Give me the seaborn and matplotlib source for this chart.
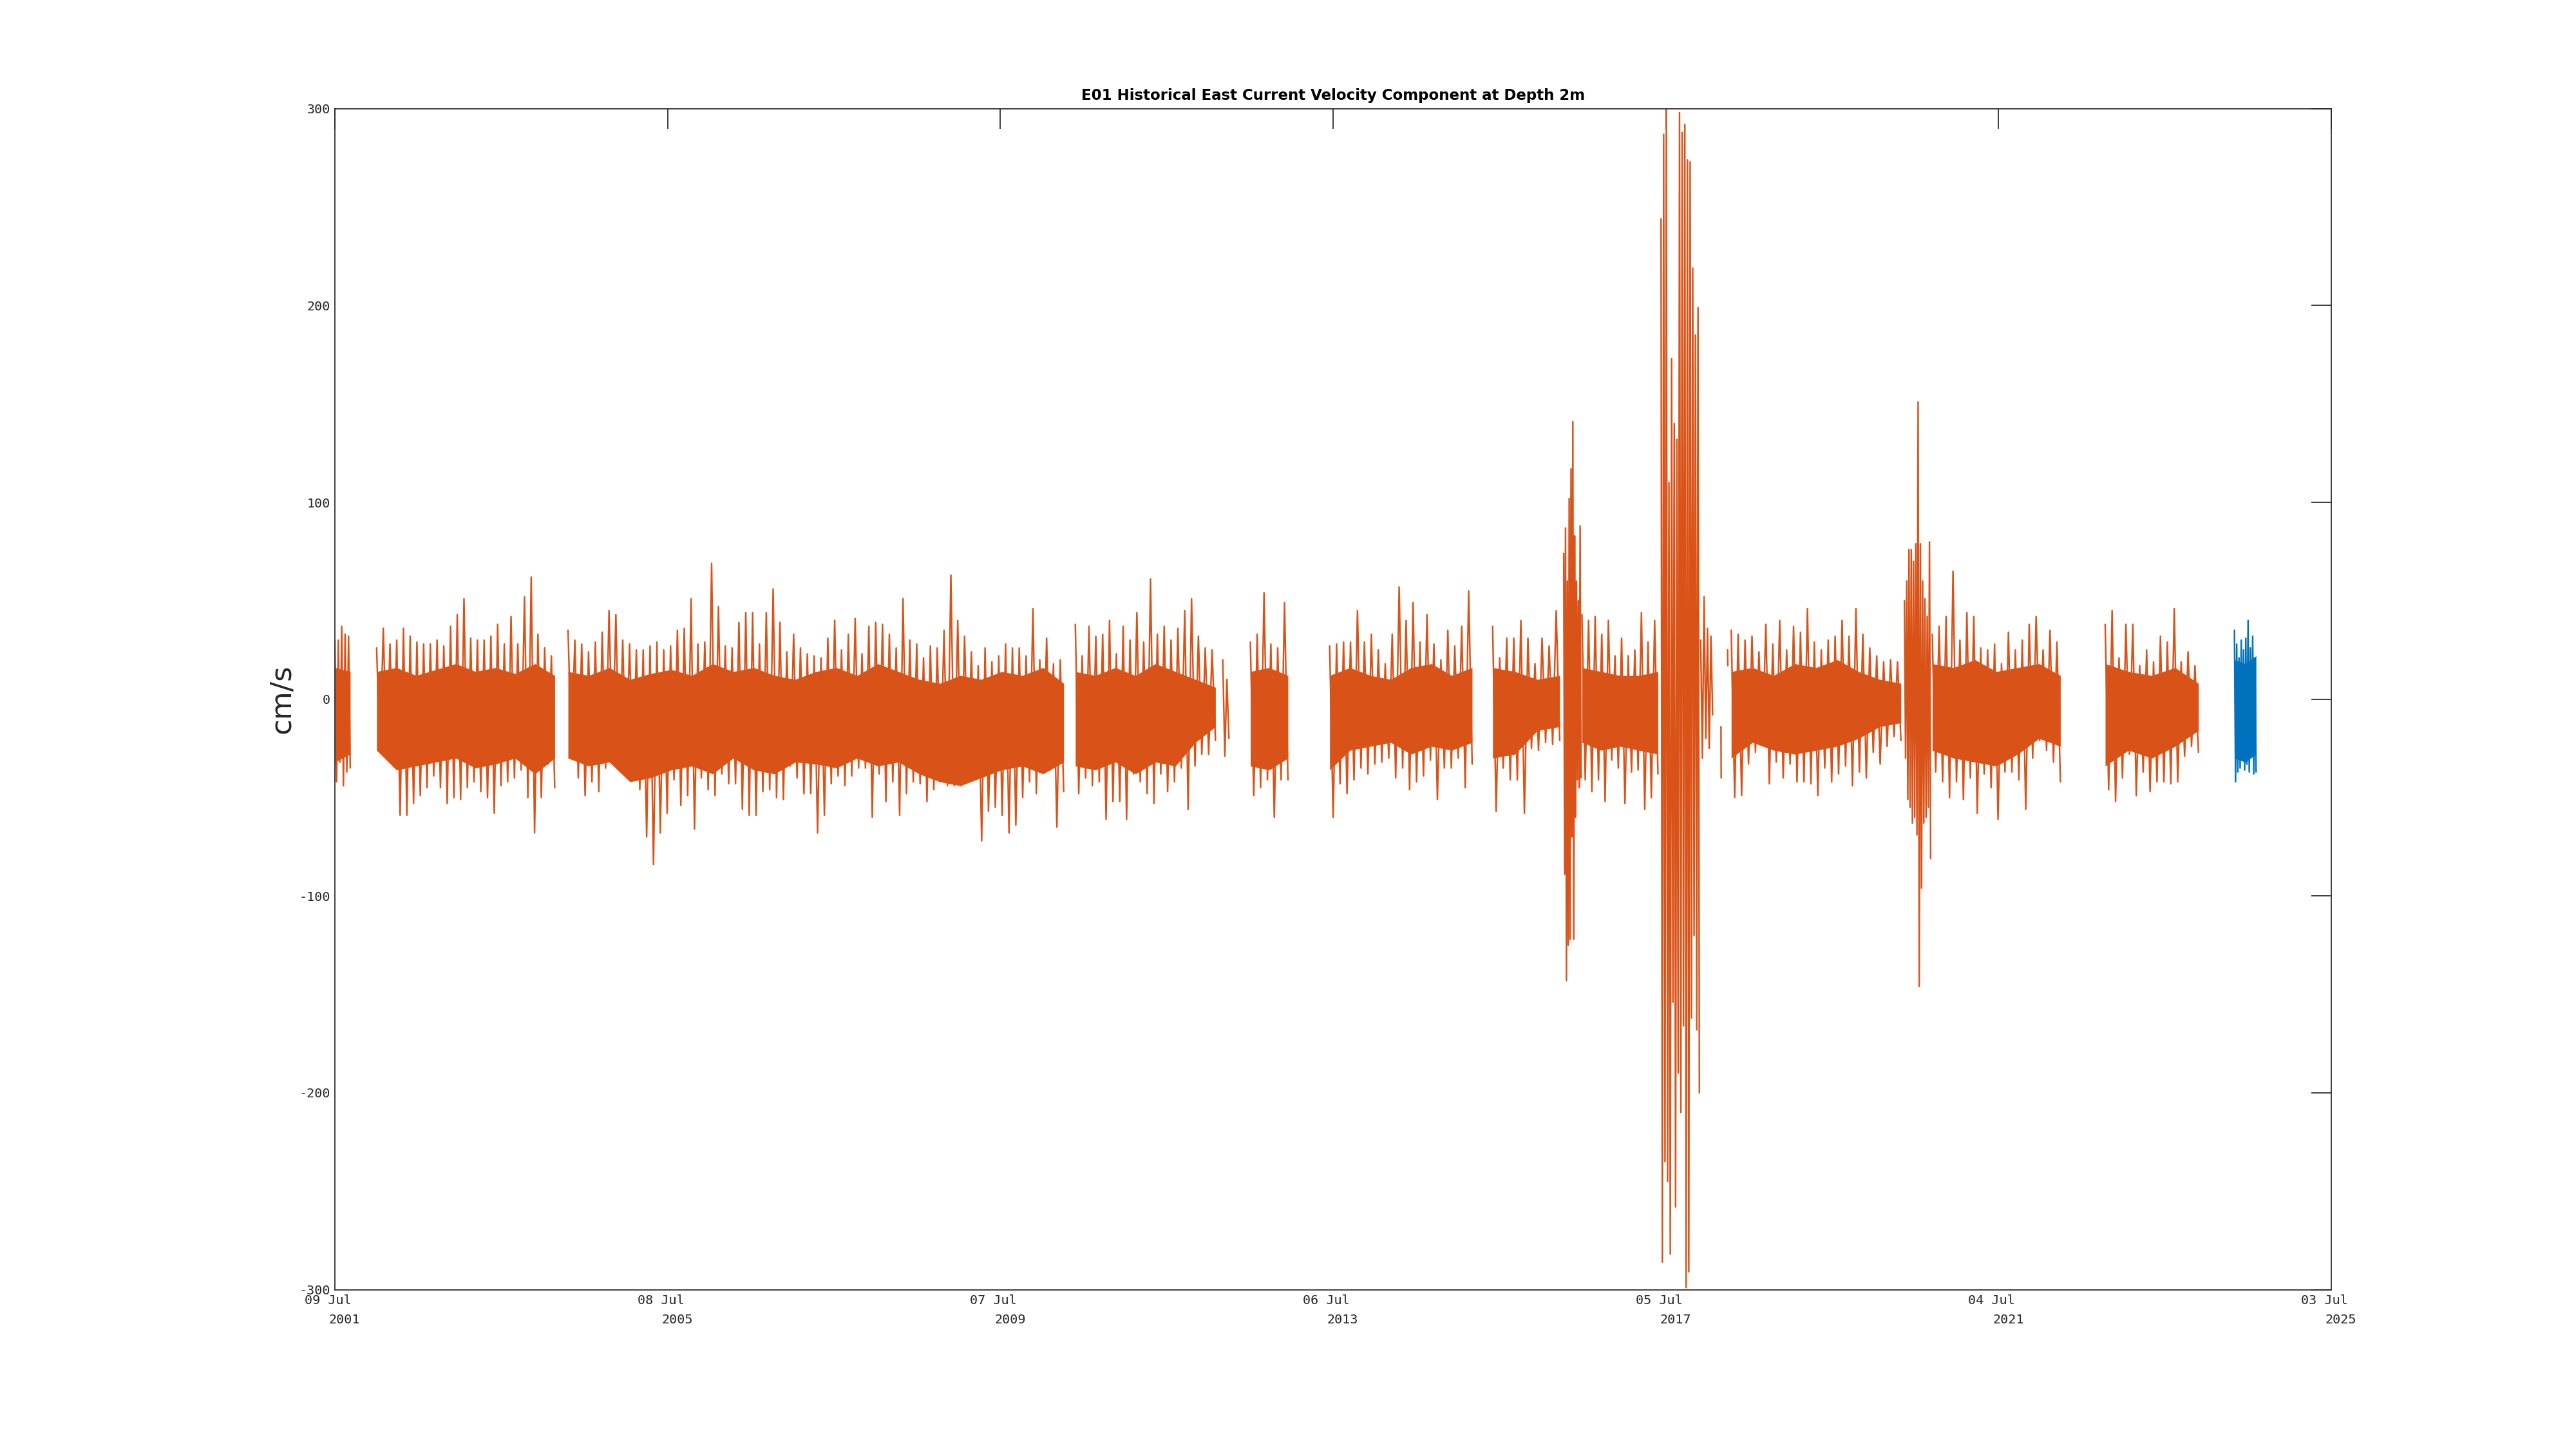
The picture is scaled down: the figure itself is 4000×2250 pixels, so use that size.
import numpy as np
import pandas as pd
import matplotlib
matplotlib.use("Agg")
import matplotlib.pyplot as plt
import matplotlib.transforms as mtransforms
import seaborn as sns

ORANGE = "#D95319"
BLUE = "#0072BD"
DARK = "#262626"

# each record piece: first sample date, days per peak/trough pair,
# peaks and troughs (cm/s), plus the solid core band
a_start, a_step = "2001-07-09", 15
a_hi = [30, 30, 37, 33, 32]
a_lo = [-42, -32, -44, -37, -35]
a_core_hi = [16, 14]
a_core_lo = [-32, -28]

b_start, b_step = "2002-01-08", 29.5
b_hi = [26, 36, 28, 30, 36, 32, 29, 28, 28, 30, 27, 37, 43, 51, 31, 30, 30, 32, 38, 28,
        42, 28, 52, 62, 33, 26, 22]
b_lo = [-26, -30, -34, -59, -59, -53, -49, -45, -39, -45, -53, -50, -51, -45, -42, -47, -50,
        -58, -44, -42, -40, -36, -50, -68, -50, -33, -45]
b_core_hi = [14, 16, 12, 15, 18, 14, 16, 13, 18, 12]
b_core_lo = [-26, -36, -34, -32, -30, -35, -33, -30, -38, -30]

c_start, c_step = "2004-04-27", 30
c_hi = [35, 30, 28, 24, 29, 34, 45, 43, 30, 28, 25, 25, 27, 29, 25, 27, 35, 36, 51, 28,
        29, 69, 47, 27, 26, 39, 44, 44, 28, 44, 56, 39, 24, 33, 26, 23, 22, 21, 31, 40,
        25, 33, 41, 23, 37, 39, 38, 33, 26, 51, 30, 28, 21, 27, 26, 35, 63, 40, 32, 24,
        17, 26, 19, 22, 28, 26, 26, 22, 46, 20, 31, 18, 20]
c_lo = [-25, -40, -49, -42, -47, -35, -27, -35, -34, -38, -46, -70, -84, -68, -58, -41, -54,
        -49, -66, -40, -46, -49, -38, -43, -43, -56, -59, -59, -47, -46, -50, -51, -34, -40,
        -48, -48, -68, -59, -43, -39,
        -44, -39, -35, -35, -60, -38, -52, -42, -59, -48, -42, -43, -52, -46, -35, -44, -44,
        -44, -36, -40, -72, -57, -55, -59, -68, -64, -50, -42, -48, -36, -36, -65, -47]
c_core_hi = [14, 12, 16, 10, 13, 15, 12, 18, 14, 16, 12, 10, 14, 16, 12, 18, 14, 10, 8, 12,
             10, 14, 12, 16, 8]
c_core_lo = [-30, -34, -32, -42, -40, -36, -34, -38, -30, -36, -38, -32, -33, -35, -30, -34,
             -32, -38, -42, -44, -40, -36, -34, -38, -32]

d_start, d_step = "2010-06-01", 30
d_hi = [38, 22, 37, 32, 33, 40, 23, 37, 30, 44, 29, 61, 33, 37, 30, 36, 45, 51, 32, 26, 25]
d_lo = [-48, -40, -44, -42, -61, -52, -52, -61, -38, -42, -48, -53, -38, -47, -42, -35, -56,
        -34, -28, -28, -21]
d_core_hi = [14, 12, 16, 12, 18, 14, 10, 6]
d_core_lo = [-34, -36, -32, -38, -32, -34, -22, -14]

d2_start, d2_step = "2012-03-09", 18
d2_hi = [20, 10]
d2_lo = [-29, -20]

e_start, e_step = "2012-07-08", 30
e_hi = [29, 33, 54, 28, 26, 49]
e_lo = [-49, -45, -41, -60, -41, -41]
e_core_hi = [14, 16, 12]
e_core_lo = [-34, -36, -30]

f_start, f_step = "2013-06-21", 30.5
f_hi = [27, 28, 29, 29, 45, 29, 33, 25, 18, 33, 57, 40, 49, 29, 43, 28, 20, 35, 27, 37, 55]
f_lo = [-60, -43, -48, -41, -35, -38, -33, -32, -30, -40, -35, -46, -42, -39, -31, -51, -35,
        -35, -30, -45, -33]
f_core_hi = [12, 16, 12, 10, 16, 18, 12, 16]
f_core_lo = [-36, -26, -24, -22, -28, -24, -26, -22]

g1_start, g1_step = "2015-06-06", 31
g1_hi = [37, 21, 31, 31, 40, 31, 18, 31, 27, 45]
g1_lo = [-57, -35, -41, -41, -58, -25, -26, -22, -23, -21]
g1_core_hi = [16, 14, 10, 12]
g1_core_lo = [-30, -28, -16, -14]

g2_start, g2_step = "2016-04-13", 8
g2_hi = [74, 87, 60, 102, 117, 141, 83, 60, 50, 88]
g2_lo = [-89, -143, -125, -122, -70, -122, -60, -41, -45, -40]

g3_start, g3_step = "2016-07-02", 29
g3_hi = [43, 40, 42, 33, 40, 22, 31, 22, 25, 44, 29, 40]
g3_lo = [-41, -47, -41, -52, -31, -35, -53, -37, -36, -56, -50, -38]
g3_core_hi = [16, 14, 12, 12, 14]
g3_core_lo = [-22, -26, -24, -26, -28]

g4_start, g4_step = "2017-06-14", 11.6
g4_hi = [244, 287, 300, 110, 173, 140, 132, 298, 288, 292, 274, 273, 219, 185, 199]
g4_lo = [-286, -235, -245, -282, -154, -258, -190, -210, -166, -299, -291, -162, -120, -168, -200]

g5_start, g5_step = "2017-12-05", 15
g5_hi = [30, 52, 36, 32]
g5_lo = [-30, -20, -25, -8]

p1_start, p1_step = "2018-03-04", 2
p1_hi = [-14]
p1_lo = [-40]

p2_start, p2_step = "2018-04-02", 2
p2_hi = [25]
p2_lo = [17]

h1_start, h1_step = "2018-04-18", 30.4
h1_hi = [35, 33, 30, 32, 24, 38, 28, 40, 25, 37, 34, 46, 29, 25, 30, 32, 40, 32, 46, 33,
         26, 22, 19, 20, 19]
h1_lo = [-50, -49, -33, -27, -23, -43, -32, -40, -33, -42, -42, -43, -49, -35, -42, -38, -34,
         -44, -37, -40, -27, -33, -24, -19, -21]
h1_core_hi = [14, 16, 12, 18, 16, 20, 14, 10, 8]
h1_core_lo = [-30, -22, -26, -28, -26, -24, -20, -14, -12]

h2_start, h2_step = "2020-05-17", 10
h2_hi = [50, 60, 76, 76, 70, 79, 151, 79, 60, 51, 42, 80]
h2_lo = [-30, -51, -55, -63, -60, -69, -146, -96, -63, -60, -55, -81]

h3_start, h3_step = "2020-09-16", 30.4
h3_hi = [33, 37, 42, 65, 30, 44, 42, 26, 25, 28, 18, 34, 25, 30, 38, 42, 25, 35, 29]
h3_lo = [-37, -42, -50, -42, -51, -40, -58, -38, -45, -61, -37, -37, -41, -56, -30, -21, -26,
         -32, -42]
h3_core_hi = [18, 16, 20, 14, 16, 18, 12]
h3_core_lo = [-26, -30, -32, -34, -28, -20, -24]

i_start, i_step = "2022-10-15", 30.3
i_hi = [38, 45, 21, 38, 38, 17, 25, 19, 32, 29, 46, 19, 24, 17]
i_lo = [-46, -52, -40, -28, -49, -37, -47, -42, -42, -43, -42, -29, -24, -27]
i_core_hi = [18, 14, 12, 16, 8]
i_core_lo = [-34, -26, -30, -24, -16]

# latest deployment (blue)
n_start, n_step = "2024-05-04", 10
n_hi = [35, 28, 21, 30, 25, 31, 40, 26, 32, 21]
n_lo = [-42, -37, -35, -29, -36, -33, -37, -29, -38, -37]
n_core_hi = [20, 18, 22]
n_core_lo = [-30, -32, -28]

tick_dates = ["2001-07-09", "2005-07-08", "2009-07-07", "2013-07-06",
              "2017-07-05", "2021-07-04", "2025-07-03"]
tick_daymonth = ["09 Jul", "08 Jul", "07 Jul", "06 Jul", "05 Jul", "04 Jul", "03 Jul"]
tick_years = ["2001", "2005", "2009", "2013", "2017", "2021", "2025"]
y_ticks = [-300, -200, -100, 0, 100, 200, 300]
y_tick_labels = ["-300", "-200", "-100", "0", "100", "200", "300"]

title = "E01 Historical East Current Velocity Component at Depth 2m"

pieces = [
    ("A", a_start, a_step, a_hi, a_lo, "hist"),
    ("B", b_start, b_step, b_hi, b_lo, "hist"),
    ("C", c_start, c_step, c_hi, c_lo, "hist"),
    ("D", d_start, d_step, d_hi, d_lo, "hist"),
    ("D2", d2_start, d2_step, d2_hi, d2_lo, "hist"),
    ("E", e_start, e_step, e_hi, e_lo, "hist"),
    ("F", f_start, f_step, f_hi, f_lo, "hist"),
    ("G1", g1_start, g1_step, g1_hi, g1_lo, "hist"),
    ("G2", g2_start, g2_step, g2_hi, g2_lo, "hist"),
    ("G3", g3_start, g3_step, g3_hi, g3_lo, "hist"),
    ("G4", g4_start, g4_step, g4_hi, g4_lo, "hist"),
    ("G5", g5_start, g5_step, g5_hi, g5_lo, "hist"),
    ("P1", p1_start, p1_step, p1_hi, p1_lo, "hist"),
    ("P2", p2_start, p2_step, p2_hi, p2_lo, "hist"),
    ("H1", h1_start, h1_step, h1_hi, h1_lo, "hist"),
    ("H2", h2_start, h2_step, h2_hi, h2_lo, "hist"),
    ("H3", h3_start, h3_step, h3_hi, h3_lo, "hist"),
    ("I", i_start, i_step, i_hi, i_lo, "hist"),
    ("N", n_start, n_step, n_hi, n_lo, "new"),
]

cores = [
    (a_start, a_step, len(a_hi), a_core_hi, a_core_lo, ORANGE),
    (b_start, b_step, len(b_hi), b_core_hi, b_core_lo, ORANGE),
    (c_start, c_step, len(c_hi), c_core_hi, c_core_lo, ORANGE),
    (d_start, d_step, len(d_hi), d_core_hi, d_core_lo, ORANGE),
    (e_start, e_step, len(e_hi), e_core_hi, e_core_lo, ORANGE),
    (f_start, f_step, len(f_hi), f_core_hi, f_core_lo, ORANGE),
    (g1_start, g1_step, len(g1_hi), g1_core_hi, g1_core_lo, ORANGE),
    (g3_start, g3_step, len(g3_hi), g3_core_hi, g3_core_lo, ORANGE),
    (h1_start, h1_step, len(h1_hi), h1_core_hi, h1_core_lo, ORANGE),
    (h3_start, h3_step, len(h3_hi), h3_core_hi, h3_core_lo, ORANGE),
    (i_start, i_step, len(i_hi), i_core_hi, i_core_lo, ORANGE),
    (n_start, n_step, len(n_hi), n_core_hi, n_core_lo, BLUE),
]

# build the long table: peak at each step, trough half a step later
frames = []
for name, start, step, hi, lo, sensor in pieces:
    t0 = pd.Timestamp(start)
    n = len(hi)
    t_hi = t0 + pd.to_timedelta(np.arange(n) * step, unit="D")
    t_lo = t0 + pd.to_timedelta((np.arange(n) + 0.5) * step, unit="D")
    t = np.empty(2 * n, dtype="datetime64[ns]")
    t[0::2] = t_hi.values
    t[1::2] = t_lo.values
    u = np.empty(2 * n)
    u[0::2] = hi
    u[1::2] = lo
    frames.append(pd.DataFrame({"time": t, "u": u, "piece": name, "sensor": sensor}))
df = pd.concat(frames, ignore_index=True)

sns.set_theme(style="white")
plt.rcParams["font.family"] = ["DejaVu Sans"]

fig = plt.figure(figsize=(16, 9), dpi=250)
ax = fig.add_axes([0.13, 0.11, 0.775, 0.815])

for start, step, n, chi, clo, col in cores:
    t0 = pd.Timestamp(start)
    t = pd.date_range(t0, t0 + pd.Timedelta(days=step * (n - 0.5)), periods=len(chi))
    ax.fill_between(t, clo, chi, color=col, lw=0)

sns.lineplot(data=df, x="time", y="u", hue="sensor", units="piece", estimator=None,
             sort=False, palette={"hist": ORANGE, "new": BLUE}, lw=0.7,
             legend=False, ax=ax)

ax.set_xlim(pd.Timestamp(tick_dates[0]), pd.Timestamp(tick_dates[-1]))
ax.set_ylim(-300, 300)

ax.set_xticks([pd.Timestamp(d) for d in tick_dates])
ax.set_xticklabels(tick_daymonth, family="DejaVu Sans Mono", fontsize=5.8, color=DARK)
ax.set_yticks(y_ticks)
ax.set_yticklabels(y_tick_labels, family="DejaVu Sans Mono", fontsize=5.8, color=DARK)
ax.tick_params(axis="both", direction="in", length=8.9, width=0.5, color=DARK,
               top=True, right=True)
ax.tick_params(axis="x", pad=2.2)
ax.tick_params(axis="y", pad=2.0)

shift = mtransforms.ScaledTranslation(-10.7 / 250, 0, fig.dpi_scale_trans)
for lab in ax.get_xticklabels():
    lab.set_transform(lab.get_transform() + shift)

# second line of the date labels
year_tr = mtransforms.blended_transform_factory(ax.transData, ax.transAxes) + \
    mtransforms.ScaledTranslation(15 / 250, -52.4 / 250, fig.dpi_scale_trans)
for d, yr in zip(tick_dates, tick_years):
    ax.text(pd.Timestamp(d), 0, yr, transform=year_tr, ha="center", va="baseline",
            family="DejaVu Sans Mono", fontsize=5.8, color=DARK)

for s in ax.spines.values():
    s.set_color(DARK)
    s.set_linewidth(0.5)

ax.set_xlabel("")
ax.set_ylabel("cm/s", fontsize=13, color=DARK)
ax.yaxis.set_label_coords(-0.0197, 0.5)
ax.set_title(title, fontsize=6.6, fontweight="bold", color="black", pad=3.9)

fig.savefig("out.png", dpi=250, facecolor="white")
